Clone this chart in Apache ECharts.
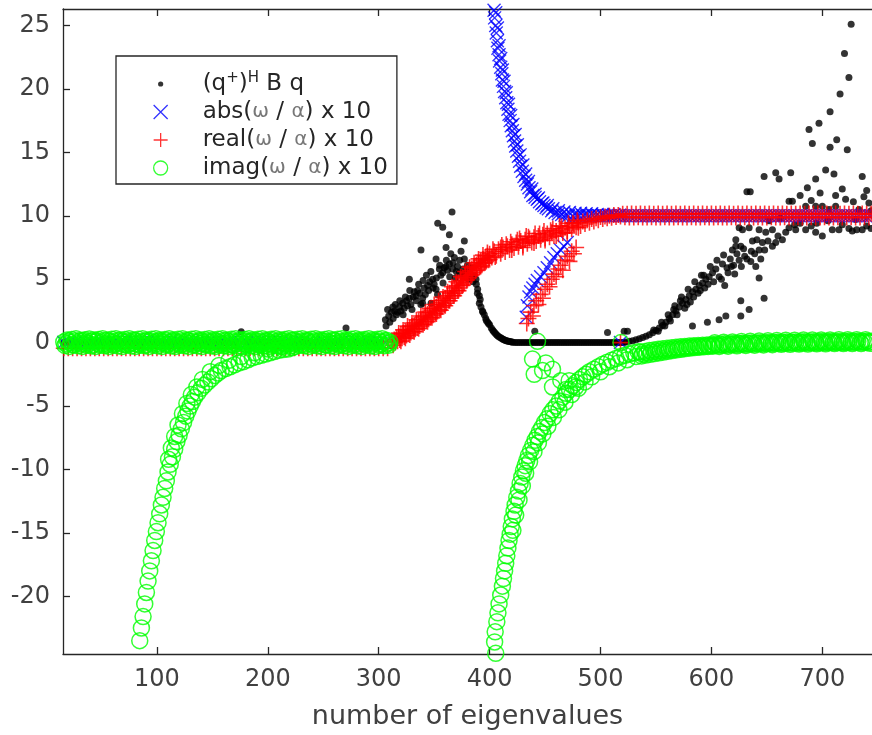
<!DOCTYPE html>
<html><head><meta charset="utf-8">
<script src="https://cdn.jsdelivr.net/npm/echarts@6/dist/echarts.min.js"></script>
<style>html,body{margin:0;padding:0;background:#fff}#c{width:872px;height:735px}</style>
</head><body><div id="c"></div>
<script>
const xTicks = [100,200,300,400,500,600,700];
const yTicks = [-20,-15,-10,-5,0,5,10,15,20,25];

// (q+)^H B q  (black dots)
const qBand = [[16,0],[21,0],[26,0],[31,0],[36,0],[41,0],[46,0],[51,0],[56,0],[61,0],[66,0],[71,0],[76,0],[81,0],[86,0],[91,0],[96,0],[101,0],[106,0],[111,0],[116,0],[121,0],[126,0],[131,0],[136,0],[141,0],[146,0],[151,0],[156,0],[161,0],[166,0],[171,0],[176,0.85],[181,0],[186,0],[191,0],[196,0],[201,0],[206,0],[211,0],[216,0],[221,0],[226,0],[231,0],[236,0],[241,0],[246,0],[251,0],[256,0],[261,0],[266,0],[270.5,1.15],[276,0],[281,0],[286,0],[291,0],[296,0],[301,0]];
const qRise1 = [[306.6,1.3],[306,1.8],[309,2.1],[310,1.6],[311.5,2.4],[312.7,2.8],[314.3,2.5],[316,2.2],[318.7,2.8],[320,2.5],[321.6,3.1],[323,2.7],[325,3.3],[327.6,3.5],[327.6,5.0],[329,3.0],[331,3.6],[333.7,3.7],[335.1,4.1],[337,3.9],[338.1,7.3],[339.6,3.5],[339.6,3.1],[341,4.3],[344.1,4.5],[346,4.8],[347.2,3.1],[348.6,5.0],[350,4.6],[351.7,4.2],[351.7,6.6],[353.2,9.4],[354.7,5.8],[356,5.3],[357.7,5.5],[357.7,9.1],[359,5.9],[360.7,6.0],[360.7,7.5],[362,5.7],[363.7,6.2],[363.7,8.5],[366.1,10.3],[366.7,5.8],[368.2,6.7],[370,5.6],[372.7,5.5],[374.2,7.2],[375.7,5.2],[377.2,8.0],[377.2,6.6],[379,5.6],[381,5.0],[383.2,5.2],[385,4.8],[387.7,5.0],[389.2,4.2],[390.7,3.7],[390.7,3.1],[392.2,2.8],[393.5,2.5],[395.2,2.2],[396.5,1.9],[398.2,1.6],[400,1.4],[401.5,1.15],[402.7,1.0],[404.5,0.8],[406.5,0.6],[408.7,0.45],[411,0.32],[413,0.22],[415,0.15],[417,0.1],[419,0.06],[421,0.03],
  [308,2.6],[313,1.9],[315,3.0],[317,2.4],[319,3.3],[322,2.2],[324,3.6],[326,2.9],[328,4.1],[330,2.6],[332,4.0],[334,3.3],[336,4.6],[338,3.0],[340,4.9],[342,3.8],[343,5.3],[345,4.1],[347,5.6],[349,4.3],[352,5.1],[353,3.8],[355,6.1],[358,4.7],[361,6.5],[364,5.2],[365,7.0],[367,6.3],[369,5.1],[371,6.0],[373,6.5],[376,5.8],[378,5.4],[380,6.1],[382,5.5],[384,5.9],[386,5.3],[388,4.6],[389,3.9],[391.5,3.4],[394,2.4],[397,1.75],[399,1.5],[403.5,0.9],[405.5,0.7],[407.5,0.52],[410,0.38],[412,0.27],[414,0.18],[416,0.12],[418,0.08],[420,0.04]];
const qFlat = [[423,0],[425,0],[427,0],[429,0],[431,0],[433,0],[435,0],[437,0],[439,0],[440.7,0.9],[441,0],[443,0],[445,0],[447,0],[449,0],[451,0],[453,0],[455,0],[457,0],[459,0],[461,0],[463,0],[465,0],[467,0],[469,0],[471,0],[473,0],[475,0],[477,0],[479,0],[481,0],[483,0],[485,0],[487,0],[489,0],[491,0],[493,0],[495,0],[497,0],[499,0],[501,0],[503,0],[505,0],[506.3,0.8],[507,0],[509,0],[511,0],[513,0],[515,0],[517,0],[519,0],[521,0],[521.3,0.9],[524.3,0.9]];
const qRise2 = [[523,0.05],[526,0.1],[529,0.15],[532,0.22],[535,0.3],[538,0.4],[541,0.5],[544,0.62],[547,0.78],[550,0.95],[553,1.15],[556,1.35],[559,1.6],[562,1.9],[565,2.2],[568,2.5],[571,2.8],[574,3.1],[577,3.4],[580,3.7],[583,4.0],[586,4.2],[589,4.5],[592,4.7],[595,5.0],[598,5.2],[601,5.5],[566,2.6],[572,3.3],[578,3.0],[584,3.6],[590,4.1],[593,5.3],[597,4.6],[604,5.8],[607,5.2],[610,6.2],[612,4.5],[615,5.5],[618,6.0],[620,6.1],[625,6.5],[630,6.8],[582.9,1.3],[596.4,1.6],[606.9,1.8],[613,2.1],[626.5,2.1],[626.5,3.3],[634,2.6],[647.5,3.5],[643,5.1],[644.5,6.6],[635.5,6.4],[618.9,7.3],[622,8.1],[628,8.9],[637,8.0],[646,7.9],[634,9.05],[643,8.9],[655,8.9],[649,8.7],[658,7.9],[667,8.7],[670,9.05],[676,8.9],[685,8.9],[694,8.7],[700,8.4],[709,8.9],[715,8.9],[727,8.8],[736,8.9],[625,9.05],[670,11.15],[673,11.15],[685,10.75],[694,10.75],[700,10.75],[706,10.5],[712,10.75],[721,11.3],[718,12.1],[703,13.6],[710.5,13.3],[694,12.9],[686.5,12.2],[691,15.7],[688,16.8],[697,17.3],[713,16.0],[707,15.4],[722.5,15.2],[707,18.2],[716,19.6],[724,20.9],[720,22.8],[726,25.1],[736,13.1],[737.5,11.5],[733,10.5],[632,11.9],[635,11.9],[647.5,13.1],[658,13.4],[661,12.9],[671.5,13.4],[626.5,7.6],[643,7.3],[622,7.6],[640,6.0],[652,9.6],[662,9.8],[680,9.4],[690,9.2],[705,9.6],[718,9.3],[730,9.7],[740,9.2],[744,10.4],[742,11.0],
  [548,1.0],[552,0.9],[555,1.6],[558,1.3],[561,2.2],[563,1.7],[567,2.9],[569,2.2],[573,3.6],[576,2.7],[579,4.2],[581,3.2],[585,4.8],[588,3.9],[591,5.3],[594,4.3],[599,6.0],[602,4.8],[605,6.5],[609,5.0],[611,6.9],[614,5.9],[617,6.6],[621,5.4],[623,7.0],[627,6.0],[629,7.4],[632,6.6],[636,7.2],[639,7.0],[641,8.1],[648,7.3],[651,8.0],[655,7.6],[660,8.4],[664,8.1],[680,11.6],[690,11.2],[698,11.8],[712,11.6],[728,11.1],[740,12.0],[744,9.0],[675,9.3],[695,9.4],[724,9.0],[731,8.9]];

// abs(w/a) x 10  (blue x)
const absBand = [[16,0],[21,0],[26,0],[31,0],[36,0],[41,0],[46,0],[51,0],[56,0],[61,0],[66,0],[71,0],[76,0],[81,0],[86,0],[91,0],[96,0],[101,0],[106,0],[111,0],[116,0],[121,0],[126,0],[131,0],[136,0],[141,0],[146,0],[151,0],[156,0],[161,0],[166,0],[171,0],[176,0],[181,0],[186,0],[191,0],[196,0],[201,0],[206,0],[211,0],[216,0],[221,0],[226,0],[231,0],[236,0],[241,0],[246,0],[251,0],[256,0],[261,0],[266,0],[271,0],[276,0],[281,0],[286,0],[291,0],[296,0],[301,0],[306,0]];
const absDecay = [[404,26.2],[404.5,25.6],[405.5,25.0],[406,24.4],[407,23.8],[407.5,23.2],[408.5,22.7],[409,22.2],[410,21.7],[411,21.2],[411.5,20.7],[412.5,20.2],[413.5,19.8],[414.5,19.3],[415.5,18.9],[416.5,18.4],[417.5,18.0],[418.5,17.5],[419.5,17.1],[420.5,16.7],[421.5,16.3],[422.5,15.9],[423.5,15.5],[424.5,15.1],[426,14.7],[427,14.3],[428,13.9],[429.5,13.5],[431,13.1],[432.5,12.8],[434,12.5],[435.5,12.2],[437,11.9],[439,11.6],[441,11.45],[443,11.3],[445,11.1],[447,10.95],[449,10.8],[451,10.65],[453,10.55],[456,10.4],[459,10.25],[462,10.15],[465,10.1],[468,10.05],[471,10.0],[405.5,26.0],[407,24.8],[408.5,23.4],[410,22.4],[411.5,21.5],[413,20.6],[415,19.7],[417,18.8],[419,17.9],[421,17.2],[423,16.4],[425,15.6],[427.5,14.8],[430,14.0],[432.5,13.3],[435,12.7],[438,12.1],[441,11.7],[444,11.4],[448,11.0],[452,10.8],[457,10.55],[462,10.4],[467,10.3],[472,10.25],[477,10.2],[482,10.2],[487,10.15],[492,10.15],[497,10.1],[502,10.1],[507,10.05],[512,10.1],[517,10.05]];
const absBranch = [[433,2.0],[434,2.9],[435.5,3.6],[437,4.0],[439,4.3],[441,4.6],[443,4.9],[446,5.2],[449,5.5],[452,5.9],[455,6.3],[458,6.7],[461,7.0],[464,7.3],[467,7.6],[470,7.9],[518,0]];
const absFlat = [[475,9.95],[478,10],[481,10],[484,10],[487,10],[490,10],[493,10],[496,10],[499,10],[502,10],[505,10],[508,10],[511,10],[514,10],[517,10],[520,10],[523,10],[526,10],[529,10],[532,10],[535,10],[538,10],[541,10],[544,10],[547,10],[550,10],[553,10],[556,10],[559,10],[562,10],[565,10],[568,10],[571,10],[574,10],[577,10],[580,10],[583,10],[586,10],[589,10],[592,10],[595,10],[598,10],[601,10],[604,10],[607,10],[610,10],[613,10],[616,10],[619,10],[622,10],[625,10],[628,10],[631,10],[634,10],[637,10],[640,10],[643,10],[646,10],[649,10],[652,10],[655,10],[658,10],[661,10],[664,10],[667,10],[670,10],[673,10],[676,10],[679,10],[682,10],[685,10],[688,10],[691,10],[694,10],[697,10],[700,10],[703,10],[706,10],[709,10],[712,10],[715,10],[718,10],[721,10],[724,10],[727,10],[730,10],[733,10],[736,10],[739,10],[742,10],[744,10]];

// real(w/a) x 10  (red +)
const realBand = [[16,-0.45],[20,-0.45],[24,-0.45],[28,-0.45],[32,-0.45],[36,-0.45],[40,-0.45],[44,-0.45],[48,-0.45],[52,-0.45],[56,-0.45],[60,-0.45],[64,-0.45],[68,-0.45],[72,-0.45],[76,-0.45],[80,-0.45],[84,-0.45],[88,-0.45],[92,-0.45],[96,-0.45],[100,-0.45],[104,-0.45],[108,-0.45],[112,-0.45],[116,-0.45],[120,-0.45],[124,-0.45],[128,-0.45],[132,-0.45],[136,-0.45],[140,-0.45],[144,-0.45],[148,-0.45],[152,-0.45],[156,-0.45],[160,-0.45],[164,-0.45],[168,-0.45],[172,-0.45],[176,-0.45],[180,-0.45],[184,-0.45],[188,-0.45],[192,-0.45],[196,-0.45],[200,-0.45],[204,-0.45],[208,-0.45],[212,-0.45],[216,-0.45],[220,-0.45],[224,-0.45],[228,-0.45],[232,-0.45],[236,-0.45],[240,-0.45],[244,-0.45],[248,-0.45],[252,-0.45],[256,-0.45],[260,-0.45],[264,-0.45],[268,-0.45],[272,-0.45],[276,-0.45],[280,-0.45],[284,-0.45],[288,-0.45],[292,-0.45],[296,-0.45],[300,-0.45],[304,-0.45],[308,-0.45]];
const realSigmoid = [[312,0.1],[313,-0.2],[314,0.25],[315,0.0],[316,0.4],[317,0.1],[318,0.5],[319,0.2],[320,0.65],[321,0.35],[322,0.75],[323,0.45],[324,0.9],[325,0.55],[326,1.0],[327,0.7],[328,1.15],[329,0.8],[330,1.3],[331,0.9],[332,1.4],[333,1.05],[334,1.55],[335,1.15],[336,1.7],[337,1.3],[338,1.85],[339,1.45],[340,2.0],[341,1.55],[342,2.1],[343,1.7],[344,2.25],[345,1.85],[346,2.4],[347,2.0],[348,2.55],[349,2.15],[350,2.7],[351,2.3],[352,2.85],[353,2.45],[354,3.0],[355,2.6],[356,3.15],[357,2.8],[358,3.35],[359,2.95],[360,3.5],[361,3.1],[362,3.7],[363,3.3],[364,3.9],[365,3.5],[366,4.1],[367,3.7],[368,4.3],[369,3.9],[370,4.5],[371,4.1],[372,4.7],[373,4.3],[374,4.9],[375,4.5],[376,5.1],[377,4.7],[378,5.3],[379,4.9],[380,5.5],[381,5.1],[382,5.7],[383,5.3],[384,5.85],[385,5.5],[386,6.0],[387,5.65],[388,6.15],[389,5.8],[390,6.3],[391,5.95],[392,6.45],[393,6.1],[394,6.6],[395,6.25],[396,6.75],[397,6.4],[398,6.85],[399,6.5],[400,7.0],[402,6.7],[404,7.2],[406,6.85],[408,7.35],[410,7.0],[412,7.5],[414,7.15],[416,7.6],[418,7.3],[420,7.75],[422,7.45],[424,7.9],[426,7.55],[428,8.0],[430,7.65],[432,8.1],[434,7.8],[436,8.2],[438,7.9],[440,8.3],[442,8.0],[444,8.4],[446,8.1],[448,8.5],[450,8.2],[452,8.6],[454,8.3],[456,8.7],[458,8.4],[460,8.8],[462,8.55],[464,8.95],[466,8.65],[468,9.05],[470,8.8],[472,9.2],[474,8.95],[476,9.35],[478,9.1],[480,9.45],[482,9.2],[484,9.55],[486,9.35],[488,9.65],[490,9.45],[492,9.75],[494,9.55],[496,9.8],[498,9.65],[500,9.9],[502,9.75],[504,9.95],[506,9.8],[508,10.0],[510,9.85],[512,10.05],[514,9.9],[516,10.05],[518,9.95],
  [320,0.1],[324,0.35],[328,0.6],[332,0.85],[336,1.1],[340,1.4],[344,1.65],[348,1.95],[352,2.25],[356,2.55],[360,2.9],[364,3.3],[368,3.7],[372,4.1],[376,4.55],[380,4.95],[384,5.35],[388,5.7],[392,6.0],[396,6.3],[400,6.55],[405,6.75],[410,7.5],[415,7.75],[420,7.3],[425,8.1],[430,7.5],[435,8.35],[440,7.85],[445,8.6],[450,8.05],[455,8.85],[460,8.4],[465,9.15],[470,8.65],[475,9.45],[480,9.05],
  [318,0.75],[322,1.0],[326,1.3],[330,1.55],[334,1.8],[338,2.1],[342,2.4],[346,2.7],[350,3.0],[354,3.3],[358,3.6],[362,4.0],[366,4.4],[370,4.8],[374,5.2],[378,5.6],[382,5.95],[386,6.3],[390,6.6],[394,6.9],[398,7.1],[403,7.35],[411,7.7],[419,7.95],[427,8.2],[433,8.4],[441,8.6],[449,8.8],[457,9.0],[463,9.2],[471,9.4],[479,9.65]];
const realBranch = [[433.5,1.5],[435,1.9],[437,2.4],[439,2.1],[440,2.9],[442,3.3],[444,3.0],[446,3.8],[448,3.5],[450,4.2],[452,4.6],[454,4.4],[456,5.0],[458,5.4],[460,5.2],[462,5.8],[464,6.1],[466,5.7],[468,6.5],[470,6.8],[472,6.4],[474,7.2],[476,7.0],[478,7.5],[518,0]];
const realFlat = [[520,10.15],[522,9.88],[524,10.15],[526,9.86],[528,10.17],[530,9.86],[532,10.15],[534,9.88],[536,10.17],[538,9.86],[540,10.15],[542,9.86],[544,10.17],[546,9.88],[548,10.15],[550,9.86],[552,10.17],[554,9.86],[556,10.15],[558,9.88],[560,10.17],[562,9.86],[564,10.15],[566,9.86],[568,10.17],[570,9.88],[572,10.15],[574,9.86],[576,10.17],[578,9.86],[580,10.15],[582,9.88],[584,10.17],[586,9.86],[588,10.15],[590,9.86],[592,10.17],[594,9.88],[596,10.15],[598,9.86],[600,10.17],[602,9.86],[604,10.15],[606,9.88],[608,10.17],[610,9.86],[612,10.15],[614,9.86],[616,10.17],[618,9.88],[620,10.15],[622,9.86],[624,10.17],[626,9.86],[628,10.15],[630,9.88],[632,10.17],[634,9.86],[636,10.15],[638,9.86],[640,10.17],[642,9.88],[644,10.15],[646,9.86],[648,10.17],[650,9.86],[652,10.15],[654,9.88],[656,10.17],[658,9.86],[660,10.15],[662,9.86],[664,10.17],[666,9.88],[668,10.15],[670,9.86],[672,10.17],[674,9.86],[676,10.15],[678,9.88],[680,10.17],[682,9.86],[684,10.15],[686,9.86],[688,10.17],[690,9.88],[692,10.15],[694,9.86],[696,10.17],[698,9.86],[700,10.15],[702,9.88],[704,10.17],[706,9.86],[708,10.15],[710,9.86],[712,10.17],[714,9.88],[716,10.15],[718,9.86],[720,10.17],[722,9.86],[724,10.15],[726,9.88],[728,10.17],[730,9.86],[732,10.15],[734,9.86],[736,10.17],[738,9.88],[740,10.15],[742,9.86],[744,10.15]];

// imag(w/a) x 10  (green o)
const imagBand = [[16,0.05],[18,-0.1],[20,0.1],[22,0],[24,-0.15],[26,0.12],[28,-0.05],[30,0.08],[32,-0.12],[34,0.15],[36,0],[38,-0.08],[40,0.1],[42,-0.15],[44,0.05],[46,0.12],[48,-0.1],[50,0],[52,0.15],[54,-0.05],[56,-0.15],[58,0.1],[60,0.02],[62,-0.1],[64,0.14],[66,-0.04],[68,0.08],[70,-0.14],[72,0.03],[74,0.12],[76,-0.09],[78,0.01],[80,0.15],[82,-0.12],[84,0.06],[86,-0.03],[88,0.11],[90,-0.15],[92,0.04],[94,0.13],[96,-0.07],[98,0],[100,0.1],[102,-0.12],[104,0.07],[106,-0.02],[108,0.14],[110,-0.1],[112,0.03],[114,0.1],[116,-0.13],[118,0.05],[120,-0.04],[122,0.12],[124,-0.11],[126,0.02],[128,0.15],[130,-0.06],[132,0.09],[134,-0.14],[136,0.01],[138,0.11],[140,-0.08],[142,0.05],[144,-0.12],[146,0.13],[148,-0.02],[150,0.07],[152,-0.15],[154,0.1],[156,0],[158,-0.09],[160,0.14],[162,-0.05],[164,0.06],[166,-0.13],[168,0.12],[170,0.02],[172,-0.1],[174,0.09],[176,-0.04],[178,0.15],[180,-0.12],[182,0.04],[184,0.1],[186,-0.07],[188,0.01],[190,0.13],[192,-0.14],[194,0.06],[196,-0.02],[198,0.11],[200,-0.1],[202,0.03],[204,0.14],[206,-0.06],[208,0.08],[210,-0.13],[212,0.01],[214,0.12],[216,-0.09],[218,0.05],[220,-0.03],[222,0.15],[224,-0.11],[226,0.07],[228,-0.01],[230,0.1],[232,-0.14],[234,0.04],[236,0.12],[238,-0.08],[240,0.02],[242,0.13],[244,-0.12],[246,0.06],[248,-0.04],[250,0.1],[252,-0.15],[254,0.08],[256,0],[258,-0.1],[260,0.14],[262,-0.05],[264,0.07],[266,-0.12],[268,0.11],[270,0.01],[272,-0.09],[274,0.12],[276,-0.03],[278,0.06],[280,-0.14],[282,0.1],[284,0.02],[286,-0.08],[288,0.13],[290,-0.06],[292,0.05],[294,-0.12],[296,0.09],[298,0],[300,0.11],[302,-0.1],[304,0.04],[306,0.12],[308,-0.07],[310,0.03]];
const imagBandB = [[17,-0.22],[19,0.2],[21,-0.3],[23,0.25],[25,-0.18],[27,0.3],[29,-0.25],[31,0.18],[33,-0.3],[35,0.22],[37,-0.2],[39,0.28],[41,-0.26],[43,0.2],[45,-0.3],[47,0.25],[49,-0.2],[51,0.3],[53,-0.24],[55,0.18],[57,-0.3],[59,0.26],[61,-0.2],[63,0.3],[65,-0.26],[67,0.2],[69,-0.3],[71,0.24],[73,-0.18],[75,0.3],[77,-0.26],[79,0.2],[81,-0.3],[83,0.26],[85,-0.2],[87,0.3],[89,-0.24],[91,0.18],[93,-0.3],[95,0.26],[97,-0.2],[99,0.3],[101,-0.26],[103,0.2],[105,-0.3],[107,0.24],[109,-0.18],[111,0.3],[113,-0.26],[115,0.2],[117,-0.3],[119,0.26],[121,-0.2],[123,0.3],[125,-0.24],[127,0.18],[129,-0.3],[131,0.26],[133,-0.2],[135,0.3],[137,-0.26],[139,0.2],[141,-0.3],[143,0.24],[145,-0.18],[147,0.3],[149,-0.26],[151,0.2],[153,-0.3],[155,0.26],[157,-0.2],[159,0.3],[161,-0.24],[163,0.18],[165,-0.3],[167,0.26],[169,-0.2],[171,0.3],[173,-0.26],[175,0.2],[177,-0.3],[179,0.24],[181,-0.18],[183,0.3],[185,-0.26],[187,0.2],[189,-0.3],[191,0.26],[193,-0.2],[195,0.3],[197,-0.24],[199,0.18],[201,-0.3],[203,0.26],[205,-0.2],[207,0.3],[209,-0.26],[211,0.2],[213,-0.3],[215,0.24],[217,-0.18],[219,0.3],[221,-0.26],[223,0.2],[225,-0.3],[227,0.26],[229,-0.2],[231,0.3],[233,-0.24],[235,0.18],[237,-0.3],[239,0.26],[241,-0.2],[243,0.3],[245,-0.26],[247,0.2],[249,-0.3],[251,0.24],[253,-0.18],[255,0.3],[257,-0.26],[259,0.2],[261,-0.3],[263,0.26],[265,-0.2],[267,0.3],[269,-0.24],[271,0.18],[273,-0.3],[275,0.26],[277,-0.2],[279,0.3],[281,-0.26],[283,0.2],[285,-0.3],[287,0.24],[289,-0.18],[291,0.3],[293,-0.26],[295,0.2],[297,-0.3],[299,0.26],[301,-0.2],[303,0.3],[305,-0.24],[307,0.18],[309,-0.2]];
const imagDrop1 = [[222,-0.4],[218,-0.5],[214,-0.55],[210,-0.6],[206,-0.7],[202,-0.8],[198,-0.9],[194,-1.0],[190,-1.1],[186,-1.2],[182,-1.35],[178,-1.5],[174,-1.6],[170,-1.75],[166,-1.9],[162,-2.05],[158,-2.2],[155,-2.4],[152,-2.6],[149,-2.85],[146,-3.1],[143,-3.35],[140,-3.6],[137,-3.95],[134,-4.3],[132,-4.65],[130,-5.0],[128,-5.4],[126,-5.8],[124,-6.3],[122,-6.8],[120,-7.3],[118,-7.8],[116,-8.4],[114,-9.0],[112,-9.6],[110,-10.2],[108.5,-10.9],[107,-11.5],[105.5,-12.2],[104,-12.8],[102.5,-13.5],[101,-14.2],[99.5,-14.9],[98,-15.6],[96.5,-16.4],[95,-17.2],[93.5,-18.0],[92,-18.8],[90.5,-19.7],[89,-20.6],[87.5,-21.6],[86,-22.5],[84.5,-23.5],[212,-0.3],[200,-0.5],[188,-0.8],[176,-1.1],[165,-1.4],[156,-1.8],[148,-2.3],[141,-2.9],[136,-3.5],[131,-4.1],[127,-4.8],[123,-5.6],[119,-6.5],[116,-7.4],[113,-8.3],[110.5,-9.2]];
const imagDrop2 = [[405.5,-24.5],[404.5,-23.6],[405,-22.8],[406.5,-22.0],[407.5,-21.3],[408.5,-20.6],[410,-19.9],[411.5,-19.2],[412.5,-18.6],[413.5,-18.0],[414.5,-17.4],[415.5,-16.8],[416.5,-16.2],[417.5,-15.6],[418.5,-15.1],[419.5,-14.5],[420.5,-13.9],[422,-13.3],[423,-12.8],[424.5,-12.2],[426,-11.7],[427.5,-11.1],[429,-10.6],[430.5,-10.1],[432,-9.7],[433.5,-9.3],[435,-8.9],[437,-8.5],[439,-8.1],[441,-7.7],[443,-7.4],[445,-7.0],[447,-6.7],[449.5,-6.3],[452,-6.0],[454.5,-5.6],[457,-5.3],[460,-5.0],[463,-4.6],[466,-4.3],[469,-4.0],[472,-3.7],[475,-3.4],[478,-3.15],[481,-2.9],[484,-2.7],[487,-2.5],[490,-2.3],[494,-2.1],[498,-1.9],[502,-1.7],[506,-1.55],[510,-1.4],[514,-1.25],[518,-1.1],[522,-1.0],[526,-0.9],[530,-0.8],[534,-0.72],[421,-14.8],[423.5,-13.6],[426.5,-12.4],[429.5,-11.3],[432.5,-10.3],[436,-9.4],[440,-8.6],[444,-7.9],[448,-7.2],[452.5,-6.6],[457.5,-5.9],[462.5,-5.3],[468,-4.7],[474,-4.1],[480,-3.6],[486,-3.1],[492,-2.7],[500,-2.3],[508,-1.9],[516,-1.6],[524,-1.35],[532,-1.1]];
const imagCluster = [[443.2,0.1],[438.7,-1.3],[450.7,-1.6],[440.2,-2.5],[447.7,-2.2],[456.7,-2.1],[456.7,-3.5],[464.2,-3.0],[471.7,-3.0],[468.7,-3.7],[477.7,-3.5],[518.4,0]];
const imagTail = [[536,-0.75],[538,-0.9],[540,-0.7],[542,-0.82],[544,-0.62],[546,-0.75],[548,-0.58],[550,-0.7],[552,-0.52],[554,-0.64],[556,-0.48],[558,-0.6],[560,-0.44],[562,-0.55],[564,-0.4],[566,-0.5],[568,-0.36],[570,-0.46],[572,-0.33],[574,-0.42],[576,-0.3],[578,-0.38],[580,-0.27],[582,-0.35],[584,-0.25],[586,-0.32],[588,-0.22],[590,-0.3],[592,-0.2],[594,-0.27],[596,-0.18],[598,-0.25],[600,-0.16],[602,-0.23],[604,-0.14],[606,-0.21],[608,-0.12],[610,-0.2],[612,-0.1],[614,-0.18],[616,-0.09],[618,-0.16],[620,-0.08],[622,-0.15],[624,-0.06],[626,-0.14],[628,-0.05],[630,-0.13],[632,-0.04],[634,-0.12],[636,-0.03],[638,-0.11],[640,-0.02],[642,-0.1],[644,-0.01],[646,-0.09],[648,0],[650,-0.08],[652,0.01],[654,-0.07],[656,0.02],[658,-0.06],[660,0.03],[662,-0.05],[664,0.04],[666,-0.05],[668,0.04],[670,-0.04],[672,0.05],[674,-0.04],[676,0.05],[678,-0.03],[680,0.06],[682,-0.03],[684,0.06],[686,-0.02],[688,0.07],[690,-0.02],[692,0.07],[694,-0.01],[696,0.08],[698,-0.01],[700,0.08],[702,0],[704,0.08],[706,0],[708,0.09],[710,0],[712,0.09],[714,0.01],[716,0.09],[718,0.01],[720,0.1],[722,0.01],[724,0.1],[726,0.02],[728,0.1],[730,0.02],[732,0.1],[734,0.02],[736,0.11],[738,0.03],[740,0.11],[742,0.03],[744,0.1],
  [537,-1.05],[541,-0.98],[545,-0.92],[549,-0.86],[553,-0.8],[557,-0.74],[561,-0.68],[565,-0.62],[569,-0.57],[573,-0.52],[577,-0.47],[581,-0.43],[585,-0.39],[589,-0.36],[593,-0.33],[597,-0.3],[601,-0.28]];
const imagTailB = [[603,-0.02],[607,-0.3],[611,0.02],[615,-0.28],[619,0.05],[623,-0.25],[627,0.08],[631,-0.22],[635,0.1],[639,-0.2],[643,0.12],[647,-0.18],[651,0.14],[655,-0.16],[659,0.16],[663,-0.14],[667,0.18],[671,-0.13],[675,0.19],[679,-0.12],[683,0.2],[687,-0.11],[691,0.2],[695,-0.1],[699,0.21],[703,-0.09],[707,0.21],[711,-0.08],[715,0.22],[719,-0.08],[723,0.22],[727,-0.07],[731,0.22],[735,-0.07],[739,0.23],[743,-0.06]];

const qData = qBand.concat(qRise1, qFlat, qRise2);
const absData = absBand.concat(absDecay, absBranch, absFlat);
const realData = realBand.concat(realSigmoid, realBranch, realFlat);
const imagData = imagBand.concat(imagBandB, imagDrop1, imagDrop2, imagCluster, imagTail, imagTailB);

const FONT = 'DejaVu Sans';
const AX = '#262626';
const legendLabels = {
  q: '(q{sup|+}){sup|H} B q',
  abs: 'abs({g|ω} / {g|α}) x 10',
  real: 'real({g|ω} / {g|α}) x 10',
  imag: 'imag({g|ω} / {g|α}) x 10'
};
const PLUS = 'path://M5,0L5,10M0,5L10,5';
const CROSS = 'path://M0,0L10,10M10,0L0,10';
const DOT = 'path://M0,0M14,14M4.4,7a2.6,2.6 0 1,0 5.2,0a2.6,2.6 0 1,0 -5.2,0';

const chart = echarts.init(document.getElementById('c'), null, {renderer: 'canvas'});
chart.setOption({
  animation: false,
  backgroundColor: '#fff',
  grid: {left: 63, right: -1, top: 9, bottom: 80, containLabel: false},
  xAxis: [{
    type: 'value', min: 15.3, max: 744.8, position: 'bottom',
    axisLine: {show: true, onZero: false, lineStyle: {color: AX, width: 1.3}},
    axisTick: {show: true, inside: true, length: 7, customValues: xTicks, lineStyle: {color: AX, width: 1.3}},
    axisLabel: {customValues: xTicks, fontFamily: FONT, fontSize: 24, color: '#404040', margin: 14},
    splitLine: {show: false},
    name: 'number of eigenvalues', nameLocation: 'middle', nameGap: 49,
    nameTextStyle: {fontFamily: FONT, fontSize: 27, color: '#404040'}
  }, {
    type: 'value', min: 15.3, max: 744.8, position: 'top',
    axisLine: {show: true, onZero: false, lineStyle: {color: AX, width: 1.3}},
    axisTick: {show: true, inside: true, length: 7, customValues: xTicks, lineStyle: {color: AX, width: 1.3}},
    axisLabel: {show: false}, splitLine: {show: false}
  }],
  yAxis: [{
    type: 'value', min: -24.55, max: 26.3,
    axisLine: {show: true, onZero: false, lineStyle: {color: AX, width: 1.3}},
    axisTick: {show: true, inside: true, length: 7, customValues: yTicks, lineStyle: {color: AX, width: 1.3}},
    axisLabel: {customValues: yTicks, fontFamily: FONT, fontSize: 24, color: '#404040', margin: 13},
    splitLine: {show: false}
  }],
  legend: {
    orient: 'vertical', left: 116, top: 56,
    padding: [15, 9, 3, 37], itemWidth: 14, itemHeight: 14, itemGap: 2,
    backgroundColor: '#fff', borderColor: AX, borderWidth: 1.3,
    selectedMode: false,
    itemStyle: {borderWidth: 1.3},
    textStyle: {fontFamily: FONT, fontSize: 23, color: '#262626', lineHeight: 26, padding: [0, 0, 0, 30],
      rich: {sup: {fontFamily: FONT, fontSize: 15, verticalAlign: 'top', lineHeight: 15, padding: [0, 0, 6, 0]},
             g: {fontFamily: FONT, fontSize: 20, color: '#777'}}},
    formatter: function (n) { return legendLabels[n]; },
    data: [{name: 'q', icon: DOT}, {name: 'abs'}, {name: 'real'}, {name: 'imag'}]
  },
  series: [
    {name: 'q', type: 'scatter', data: qData, symbol: 'circle', symbolSize: 7, silent: true,
     itemStyle: {color: '#000'}},
    {name: 'abs', type: 'scatter', data: absData, symbol: CROSS, symbolSize: 13, silent: true,
     itemStyle: {color: 'transparent', borderColor: '#0000ff', borderWidth: 1.4}},
    {name: 'real', type: 'scatter', data: realData, symbol: PLUS, symbolSize: 16, silent: true,
     itemStyle: {color: 'transparent', borderColor: '#ff0000', borderWidth: 1.6}},
    {name: 'imag', type: 'scatter', data: imagData, symbol: 'circle', symbolSize: 16, silent: true,
     itemStyle: {color: 'transparent', borderColor: '#00ff00', borderWidth: 1.5}}
  ]
});
</script></body></html>
